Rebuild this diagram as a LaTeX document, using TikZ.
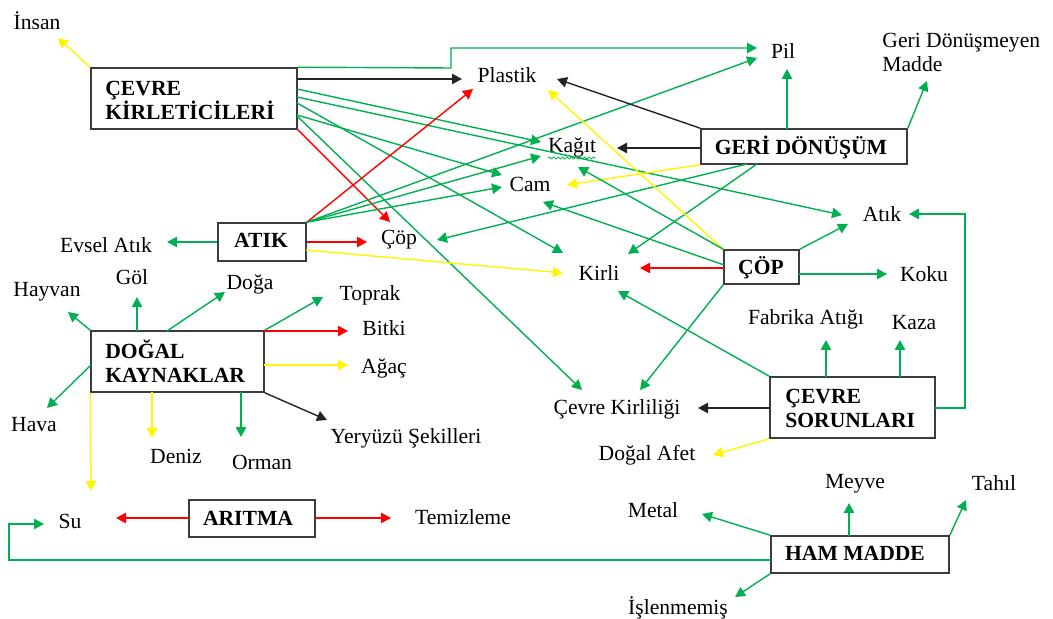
\documentclass[tikz,border=0pt]{standalone}
\usepackage{fontspec}
\setmainfont{Liberation Serif}
\usetikzlibrary{arrows.meta,decorations.pathmorphing}
\definecolor{gr}{RGB}{0,176,80}
\definecolor{yl}{RGB}{255,245,0}
\definecolor{rd}{RGB}{255,0,0}
\definecolor{bk}{RGB}{35,35,35}
\definecolor{bord}{RGB}{60,60,60}
\begin{document}
\begin{tikzpicture}[x=0.5pt,y=-0.5pt,
  lbl/.style={font=\fontsize{10.8}{12}\selectfont, inner sep=0pt, align=left},
  btxt/.style={font=\fontsize{10.8}{12}\selectfont\bfseries, inner sep=0pt, align=left},
  box/.style={draw=bord, line width=0.8pt, inner sep=0pt, fill=white},
  con/.style={line width=0.7pt, -{Triangle[length=5pt,width=5.2pt]}},
  cg/.style={con, color=gr},
  cy/.style={con, color=yl},
  cr/.style={con, color=rd},
  ck/.style={con, color=bk}]
\useasboundingbox (0,0) rectangle (1053,619);

% ---------- boxes ----------
\node[box, minimum width=103pt, minimum height=30.5pt] (ck) at (194,98.5) {};
\node[box, minimum width=44pt, minimum height=19pt] (atik) at (262,242) {};
\node[box, minimum width=103pt, minimum height=17.5pt] (geri) at (804,146.5) {};
\node[box, minimum width=37.5pt, minimum height=17pt] (cop) at (761.5,267) {};
\node[box, minimum width=82.5pt, minimum height=30.5pt] (cs) at (852.5,407.5) {};
\node[box, minimum width=86.5pt, minimum height=30.5pt] (dk) at (177.5,361.5) {};
\node[box, minimum width=63pt, minimum height=18.5pt] (aritma) at (252,518.5) {};
\node[box, minimum width=89pt, minimum height=18.5pt] (ham) at (860,554.5) {};

% ---------- box texts ----------
\node[btxt, anchor=west] (ckt) at (105,100) {ÇEVRE\\KİRLETİCİLERİ};
\node[btxt] (atikt) at (261,240) {ATIK};
\node[btxt] (gerit) at (801,147) {GERİ DÖNÜŞÜM};
\node[btxt] (copt) at (761,268) {ÇÖP};
\node[btxt, anchor=west] (cst) at (785,408) {ÇEVRE\\SORUNLARI};
\node[btxt, anchor=west] (dkt) at (105,361) {DOĞAL\\KAYNAKLAR};
\node[btxt] (aritmat) at (248,518) {ARITMA};
\node[btxt] (hamt) at (855,553) {HAM MADDE};

% ---------- labels ----------
\node[lbl] (insan) at (37,21) {İnsan};
\node[lbl] (plastik) at (507,75) {Plastik};
\node[lbl] (pil) at (783,51) {Pil};
\node[lbl, anchor=west] (gdm) at (882,52) {Geri Dönüşmeyen\\Madde};
\node[lbl] (kagit) at (572,147) {Kağıt};
\node[lbl] (cam) at (530,184) {Cam};
\node[lbl] (cop2) at (399,240) {Çöp};
\node[lbl] (atik2) at (882,214) {Atık};
\node[lbl] (evsel) at (106,245) {Evsel Atık};
\node[lbl] (kirli) at (599,273) {Kirli};
\node[lbl] (koku) at (924,274) {Koku};
\node[lbl] (gol) at (132,277) {Göl};
\node[lbl] (doga) at (250,284) {Doğa};
\node[lbl] (hayvan) at (47,292) {Hayvan};
\node[lbl] (toprak) at (370,295) {Toprak};
\node[lbl] (bitki) at (384,328) {Bitki};
\node[lbl] (agac) at (384,368) {Ağaç};
\node[lbl] (fabrika) at (806,319) {Fabrika Atığı};
\node[lbl] (kaza) at (914,323) {Kaza};
\node[lbl] (ckir) at (617,409) {Çevre Kirliliği};
\node[lbl] (hava) at (34,425) {Hava};
\node[lbl] (yery) at (406,438) {Yeryüzü Şekilleri};
\node[lbl] (deniz) at (176,456) {Deniz};
\node[lbl] (orman) at (262,462) {Orman};
\node[lbl] (dafet) at (647,455) {Doğal Afet};
\node[lbl] (su) at (70,521) {Su};
\node[lbl] (temiz) at (463,517) {Temizleme};
\node[lbl] (metal) at (653,510) {Metal};
\node[lbl] (meyve) at (855,484) {Meyve};
\node[lbl] (tahil) at (994,483) {Tahıl};
\node[lbl] (islen) at (678,608) {İşlenmemiş};

\draw[gr, line width=0.4pt, decorate, decoration={snake, amplitude=0.5pt, segment length=2.2pt}] (548,158) -- (596,158);

% ---------- ÇEVRE KİRLETİCİLERİ ----------
\draw[cy] (ck.north west) -- (58,38);
\draw[cg] (ck.north east) -- (451,68) -- (451,48) -- (757,48);
\draw[ck] (297,79) -- (462,79);
\draw[cg] (297,89) -- (541,142);
\draw[cg] (297,97) -- (842,215);
\draw[cg] (297,103) -- (563,253);
\draw[cg] (297,115) -- (502,175);
\draw[cg] (297,116) -- (582,390);
\draw[cr] (ck.south east) -- (390,222);

% ---------- ATIK ----------
\draw[cg] (atik.west) -- (167,242);
\draw[cr] (atik.east) -- (367,242);
\draw[cy] (306,250) -- (563,273);
\draw[cr] (atik.north east) -- (473,89);
\draw[cg] (atik.north east) -- (757,58);
\draw[cg] (atik.north east) -- (541,156);
\draw[cg] (atik.north east) -- (502,187);

% ---------- GERİ DÖNÜŞÜM ----------
\draw[ck] (geri.north west) -- (557,79);
\draw[ck] (701,148) -- (617,148);
\draw[cg] (787,129) -- (787,69);
\draw[cg] (geri.north east) -- (927,81);
\draw[cy] (geri.south west) -- (567,185);
\draw[cg] (747,164) -- (437,240);
\draw[cg] (757,164) -- (628,254);

% ---------- ÇÖP ----------
\draw[cy] (cop.north west) -- (548,90);
\draw[cg] (cop.north west) -- (578,167);
\draw[cg] (724,265) -- (543,202);
\draw[cr] (724,268) -- (640,268);
\draw[cg] (cop.south west) -- (640,390);
\draw[cg] (cop.north east) -- (848,224);
\draw[cg] (799,274) -- (887,274);

% ---------- ÇEVRE SORUNLARI ----------
\draw[ck] (770,408) -- (698,408);
\draw[cg] (cs.north west) -- (618,291);
\draw[cy] (cs.south west) -- (713,455);
\draw[cg] (826,377) -- (826,340);
\draw[cg] (900,377) -- (900,340);
\draw[cg] (935,408) -- (965,408) -- (965,214) -- (909,214);

% ---------- DOĞAL KAYNAKLAR ----------
\draw[cg] (dk.north west) -- (68,312);
\draw[cg] (137,331) -- (137,297);
\draw[cg] (167,331) -- (225,292);
\draw[cg] (dk.north east) -- (323,297);
\draw[cr] (264,331) -- (348,331);
\draw[cy] (264,365) -- (348,365);
\draw[ck] (dk.south east) -- (327,420);
\draw[cg] (241,392) -- (241,437);
\draw[cy] (152,392) -- (152,438);
\draw[cy] (dk.south west) -- (91,491);
\draw[cg] (91,365) -- (47,408);

% ---------- ARITMA ----------
\draw[cr] (189,518) -- (116,518);
\draw[cr] (315,518) -- (391,518);

% ---------- HAM MADDE ----------
\draw[cg] (771,560) -- (9,560) -- (9,524) -- (44,524);
\draw[cg] (ham.north west) -- (702,514);
\draw[cg] (849,536) -- (849,503);
\draw[cg] (ham.north east) -- (966,500);
\draw[cg] (ham.south west) -- (735,597);
\end{tikzpicture}
\end{document}
